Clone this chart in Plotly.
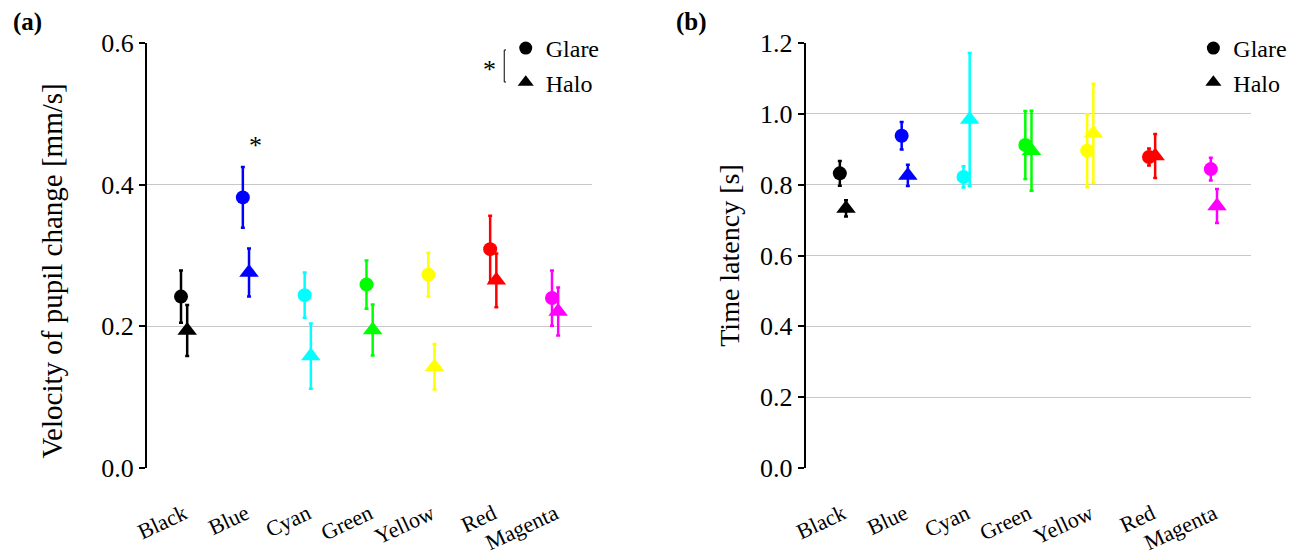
import plotly.graph_objects as go

categories = ["Black", "Blue", "Cyan", "Green", "Yellow", "Red", "Magenta"]
colors = ["#000000", "#0000FF", "#00FFFF", "#00FF00", "#FFFF00", "#FF0000", "#FF00FF"]

vel_glare = [0.242, 0.382, 0.244, 0.259, 0.273, 0.309, 0.240]
vel_glare_err = [0.037, 0.043, 0.032, 0.034, 0.031, 0.047, 0.039]
vel_halo = [0.194, 0.276, 0.158, 0.195, 0.143, 0.265, 0.221]
vel_halo_err = [0.036, 0.034, 0.046, 0.036, 0.032, 0.038, 0.034]

lat_glare = [0.832, 0.938, 0.822, 0.912, 0.896, 0.878, 0.844]
lat_glare_err = [0.035, 0.039, 0.030, 0.096, 0.103, 0.024, 0.032]
lat_halo = [0.733, 0.826, 0.984, 0.896, 0.945, 0.881, 0.740]
lat_halo_err = [0.023, 0.030, 0.188, 0.113, 0.140, 0.062, 0.048]

W, H = 1304, 557
ML, MR, MT, MB = 147, 46, 43, 89
PW, PH = W - ML - MR, H - MT - MB
FONT = "Liberation Serif, Times New Roman, Times, serif"


def px2x(px):
    return (px - ML) / PW


def py2y(py):
    return (H - MB - py) / PH


OFF = 0.05
fig = go.Figure()

panels = [
    ("x", "y", vel_glare, vel_glare_err, vel_halo, vel_halo_err),
    ("x2", "y2", lat_glare, lat_glare_err, lat_halo, lat_halo_err),
]

for xa, ya, g, ge, h, he in panels:
    for series, errs, sym, off, size in [(g, ge, "circle", -OFF, 14), (h, he, "triangle-up", OFF, 17)]:
        for i, cat in enumerate(categories):
            fig.add_trace(go.Scatter(
                x=[i + off], y=[series[i]], xaxis=xa, yaxis=ya, mode="markers",
                marker=dict(symbol=sym, size=size, color=colors[i], line=dict(width=0)),
                error_y=dict(type="data", array=[errs[i]], color=colors[i], thickness=2.5, width=2),
                showlegend=False, hoverinfo="skip",
            ))

# legend-only entries
for lg in ["legend", "legend2"]:
    xa = "x" if lg == "legend" else "x2"
    ya = "y" if lg == "legend" else "y2"
    fig.add_trace(go.Scatter(x=[None], y=[None], xaxis=xa, yaxis=ya, mode="markers", name="Glare",
                             marker=dict(symbol="circle", size=13, color="black"), legend=lg))
    fig.add_trace(go.Scatter(x=[None], y=[None], xaxis=xa, yaxis=ya, mode="markers", name="Halo",
                             marker=dict(symbol="triangle-up", size=14, color="black"), legend=lg))

axis_common = dict(
    showline=True, linecolor="black", linewidth=2, ticks="outside", ticklen=6, tickwidth=2,
    tickcolor="black", showgrid=True, gridcolor="#c8c8c8", gridwidth=1, zeroline=False,
    tickfont=dict(family=FONT, size=26, color="black"), tickformat=".1f", automargin=False,
)
xaxis_common = dict(
    range=[-0.6, 6.6], tickvals=list(range(len(categories))), ticktext=categories,
    tickangle=-25, showgrid=False, showline=False, zeroline=False, ticks="",
    tickfont=dict(family=FONT, size=22, color="black"), ticklabelstandoff=28, automargin=False,
)

legend_common = dict(
    font=dict(family=FONT, size=24, color="black"), bgcolor="white", borderwidth=0,
    xanchor="left", yanchor="top", tracegroupgap=0, itemsizing="trace",
    entrywidth=60, entrywidthmode="pixels",
)

fig.update_layout(
    width=W, height=H,
    margin=dict(l=ML, r=MR, t=MT, b=MB),
    paper_bgcolor="white", plot_bgcolor="white",
    font=dict(family=FONT, color="black"),
    xaxis=dict(domain=[0, px2x(595)], anchor="y", **xaxis_common),
    xaxis2=dict(domain=[px2x(810), 1], anchor="y2", **xaxis_common),
    yaxis=dict(domain=[0, 1], range=[0, 0.6], dtick=0.2, anchor="x", **axis_common),
    yaxis2=dict(domain=[0, 1], range=[0, 1.2], dtick=0.2, anchor="x2",
                title=dict(text="Time latency [s]", font=dict(family=FONT, size=28), standoff=12),
                **axis_common),
    legend=dict(x=px2x(508), y=py2y(26), **legend_common),
    legend2=dict(x=px2x(1200), y=py2y(26), **legend_common),
    showlegend=True,
)

annotations = [
    dict(text="Velocity of pupil change [mm/s]", x=px2x(51), y=py2y(271), xref="paper", yref="paper",
         xanchor="center", yanchor="middle", textangle=-90, showarrow=False,
         font=dict(family=FONT, size=29)),
    dict(text="<b>(a)</b>", x=px2x(27), y=py2y(22), xref="paper", yref="paper",
         xanchor="center", yanchor="middle", showarrow=False, font=dict(family=FONT, size=25)),
    dict(text="<b>(b)</b>", x=px2x(695), y=py2y(22), xref="paper", yref="paper",
         xanchor="center", yanchor="middle", showarrow=False, font=dict(family=FONT, size=25)),
    dict(text="*", x=1.15, y=0.455, xref="x", yref="y", xanchor="center", yanchor="middle",
         showarrow=False, font=dict(family=FONT, size=26)),
    dict(text="*", x=px2x(492), y=py2y(70), xref="paper", yref="paper", xanchor="center",
         yanchor="middle", showarrow=False, font=dict(family=FONT, size=26)),
]
fig.update_layout(annotations=annotations)

fig.add_shape(type="path", xref="paper", yref="paper",
              path=f"M {px2x(509)} {py2y(50)} L {px2x(506.5)} {py2y(50)} L {px2x(506.5)} {py2y(82)} L {px2x(509)} {py2y(82)}",
              line=dict(color="black", width=1), layer="above")

fig.write_html("out.html")
